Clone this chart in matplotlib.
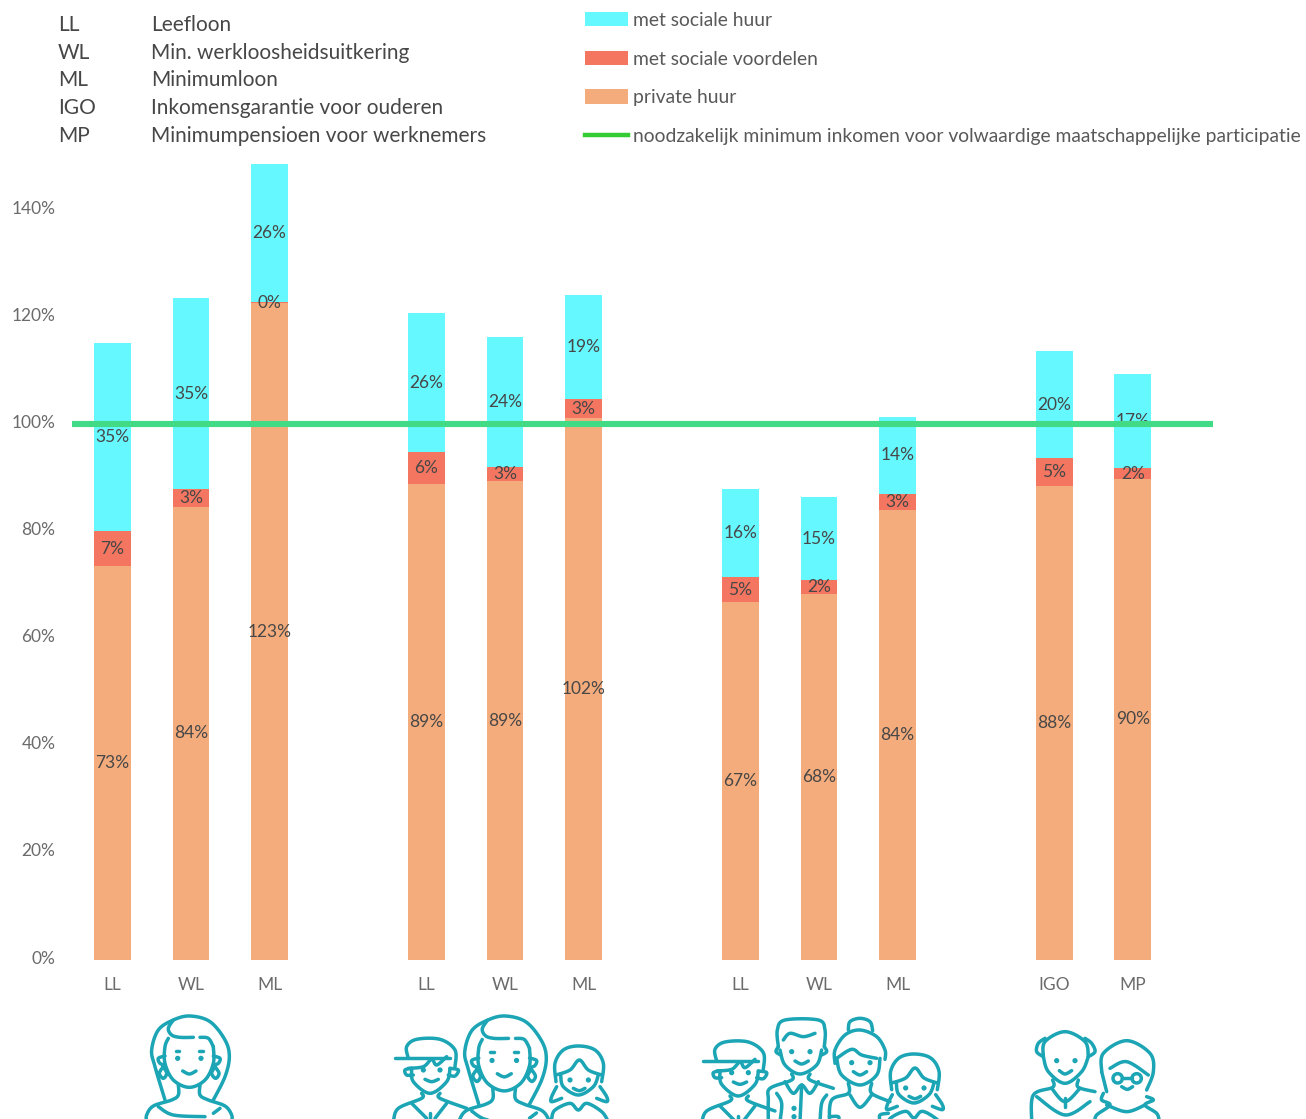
import numpy as np
from matplotlib import pyplot as plt
from matplotlib.patches import Circle
from matplotlib.transforms import ScaledTranslation

plt.rcParams['font.family'] = ['Lato', 'DejaVu Sans']

W, H = 1306, 1119

# data
positions = [0, 1, 2, 4, 5, 6, 8, 9, 10, 12, 13]
categories = ['LL', 'WL', 'ML', 'LL', 'WL', 'ML', 'LL', 'WL', 'ML', 'IGO', 'MP']
private_huur = [73.5, 84.6, 122.6, 88.9, 89.4, 101.2, 66.8, 68.3, 84.0, 88.5, 89.8]
sociale_voordelen = [6.6, 3.3, 0.2, 5.9, 2.6, 3.5, 4.7, 2.6, 3.0, 5.2, 2.0]
sociale_huur = [35.1, 35.7, 26.3, 26.0, 24.3, 19.4, 16.4, 15.5, 14.4, 20.0, 17.6]
private_labels = ['73%', '84%', '123%', '89%', '89%', '102%', '67%', '68%', '84%', '88%', '90%']
voordelen_labels = ['7%', '3%', '0%', '6%', '3%', '3%', '5%', '2%', '3%', '5%', '2%']
huur_labels = ['35%', '35%', '26%', '26%', '24%', '19%', '16%', '15%', '14%', '20%', '17%']
minimum = 100
afkortingen = ['LL', 'WL', 'ML', 'IGO', 'MP']
betekenis = ['Leefloon', 'Min. werkloosheidsuitkering', 'Minimumloon',
             'Inkomensgarantie voor ouderen', 'Minimumpensioen voor werknemers']
legend_labels = ['met sociale huur', 'met sociale voordelen', 'private huur',
                 'noodzakelijk minimum inkomen voor volwaardige maatschappelijke participatie']

fig = plt.figure(figsize=(W / 100, H / 100), dpi=100)
ax = fig.add_axes([72 / W, 1 - 960 / H, (1213 - 72) / W, (960 - 164) / H])

bottom2 = np.array(private_huur) + np.array(sociale_voordelen)
b1 = ax.bar(positions, private_huur, 0.47, color='#F4AC7C', label=legend_labels[2])
b2 = ax.bar(positions, sociale_voordelen, 0.47, bottom=private_huur, color='#F47560', label=legend_labels[1])
b3 = ax.bar(positions, sociale_huur, 0.47, bottom=bottom2, color='#66F8FF', label=legend_labels[0])
for bars, labels in [(b1, private_labels), (b2, voordelen_labels), (b3, huur_labels)]:
    ax.bar_label(bars, labels=labels, label_type='center', fontsize=12.5, color='#474747', zorder=3)
line = ax.axhline(minimum, color='#41DA85', lw=4.4, zorder=5, solid_capstyle='round')

ax.set_xlim(-0.516, 14.02)
ax.set_ylim(0, 148.6)
ax.set_yticks(range(0, 141, 20))
ax.set_yticklabels(['%d%%' % v for v in range(0, 141, 20)])
ax.set_xticks(positions)
ax.set_xticklabels(categories)
ax.tick_params(length=0, labelsize=12.5, labelcolor='#6b6b6b')
ax.tick_params(axis='y', pad=12)
ax.tick_params(axis='x', pad=12.5)
for s in ax.spines.values():
    s.set_visible(False)
for t in ax.get_yticklabels():
    t.set_transform(t.get_transform() + ScaledTranslation(0, 3 / 100, fig.dpi_scale_trans))

green = plt.Line2D([], [], color='#33CC33', lw=3.2)
ax.legend([b3, b2, b1, green], legend_labels, loc='upper left', frameon=False,
          bbox_to_anchor=(585 / W, 1 - 12 / H), bbox_transform=fig.transFigure,
          borderaxespad=0, borderpad=0, fontsize=13.9, labelcolor='#595959',
          handlelength=2.25, handleheight=0.75, handletextpad=0.25, labelspacing=1.12)

# overlay in picture pixels for the key and the icons
over = fig.add_axes([0, 0, 1, 1], facecolor='none')
over.set_xlim(0, W)
over.set_ylim(H, 0)
over.axis('off')

for y, a, b in zip([25, 53, 80, 108, 136], afkortingen, betekenis):
    over.text(58, y, a, fontsize=15, color='#474747', va='center')
    over.text(151, y, b, fontsize=15, color='#474747', va='center')

TEAL = '#1BA5B5'


def smooth(pts, n=12):
    # catmull-rom through the given points
    p = np.array(pts, dtype=float)
    if len(p) < 3:
        return p
    p = np.vstack([p[0], p, p[-1]])
    out = []
    for i in range(1, len(p) - 2):
        for t in np.linspace(0, 1, n, endpoint=False):
            out.append(0.5 * (2 * p[i] + (p[i + 1] - p[i - 1]) * t
                              + (2 * p[i - 1] - 5 * p[i] + 4 * p[i + 1] - p[i + 2]) * t ** 2
                              + (3 * p[i] - p[i - 1] - 3 * p[i + 1] + p[i + 2]) * t ** 3))
    out.append(p[-2])
    return np.array(out)


def draw(shape, ox, oy, scale=1.0, anchor=(0, 0)):
    # shape points are in 3x crop units
    for pts in shape:
        xy = smooth(pts)
        px = ox + (anchor[0] + (xy[:, 0] - anchor[0]) * scale) / 3
        py = oy + (anchor[1] + (xy[:, 1] - anchor[1]) * scale) / 3
        over.plot(px, py, color=TEAL, lw=2.5, solid_capstyle='round', solid_joinstyle='round')


def dots(points, ox, oy, scale=1.0, anchor=(0, 0)):
    for x, y in points:
        over.add_patch(Circle((ox + (anchor[0] + (x - anchor[0]) * scale) / 3,
                               oy + (anchor[1] + (y - anchor[1]) * scale) / 3), 1.9, color=TEAL))


woman = [
    [(105, 300), (75, 200), (65, 150), (85, 90), (130, 60), (180, 48), (240, 65), (285, 120), (298, 170), (285, 230), (250, 300)],
    [(130, 60), (115, 85), (125, 105), (150, 112), (190, 112)],
    [(210, 112), (235, 115), (250, 140)],
    [(115, 115), (105, 140), (105, 190), (130, 240), (178, 262), (225, 240), (250, 190), (250, 140)],
    [(105, 168), (85, 175), (90, 190), (105, 195)],
    [(250, 168), (270, 175), (265, 190), (250, 195)],
    [(100, 200), (88, 220), (100, 235), (110, 220), (100, 200)],
    [(255, 200), (245, 220), (257, 235), (267, 220), (255, 200)],
    [(137, 152), (148, 152)], [(207, 152), (218, 152)],
    [(158, 213), (178, 222), (198, 213)],
    [(145, 255), (145, 285), (125, 300), (70, 318), (50, 345), (50, 365)],
    [(210, 255), (210, 285), (235, 300), (285, 318), (305, 345), (305, 365)],
    [(85, 320), (130, 345), (225, 350)],
    [(250, 340), (270, 325)],
]
woman_eyes = [(143, 175), (213, 175)]

boy = [
    [(795, 175), (960, 175)],
    [(835, 175), (830, 140), (860, 118), (930, 118), (975, 150), (975, 200)],
    [(845, 205), (850, 245), (900, 280), (950, 245), (960, 205)],
    [(845, 205), (825, 210), (830, 225), (850, 225)],
    [(960, 205), (985, 210), (975, 228), (955, 225)],
    [(835, 205), (880, 200), (905, 178), (920, 195), (950, 170)],
    [(885, 238), (905, 245), (925, 238)],
    [(875, 280), (875, 295), (805, 325), (790, 365)],
    [(930, 280), (930, 295), (1010, 325)],
    [(845, 310), (890, 355)], [(950, 310), (915, 355)], [(900, 340), (900, 365)],
]
boy_eyes = [(880, 210), (930, 210)]

girl = [
    [(1278, 245), (1275, 190), (1300, 150), (1345, 138), (1395, 150), (1420, 190), (1415, 245)],
    [(1278, 225), (1320, 210), (1348, 180), (1375, 210), (1415, 225)],
    [(1292, 225), (1300, 260), (1345, 285), (1390, 260), (1405, 225)],
    [(1280, 260), (1265, 290), (1265, 305), (1295, 295)],
    [(1410, 260), (1430, 290), (1430, 305), (1400, 295)],
    [(1330, 265), (1348, 272), (1365, 265)],
    [(1265, 355), (1275, 330), (1320, 310), (1345, 330), (1370, 310), (1415, 335), (1435, 365)],
]
girl_eyes = [(1320, 240), (1375, 240)]

man = [
    [(265, 140), (262, 90), (285, 60), (385, 60), (405, 90), (403, 140)],
    [(280, 120), (300, 100), (340, 110), (375, 100)],
    [(270, 150), (285, 195), (330, 222), (380, 195), (395, 150)],
    [(265, 140), (258, 155), (272, 165)], [(403, 140), (410, 155), (395, 165)],
    [(315, 183), (335, 192), (355, 183)],
    [(305, 222), (305, 240), (240, 265), (235, 300), (235, 365)],
    [(360, 222), (360, 240), (430, 265)],
    [(285, 245), (310, 280), (335, 255), (360, 280), (385, 245)],
    [(335, 255), (330, 365)],
    [(260, 280), (275, 310), (270, 365)], [(410, 285), (395, 310), (390, 365)],
]
man_eyes = [(305, 155), (360, 155), (312, 325), (312, 350)]

mum = [
    [(475, 90), (480, 65), (510, 55), (540, 65), (548, 92)],
    [(435, 190), (435, 150), (465, 105), (510, 90), (560, 110), (585, 150), (585, 178)],
    [(440, 175), (485, 148), (515, 165), (560, 175)],
    [(440, 175), (455, 225), (510, 255), (560, 225), (570, 175)],
    [(490, 215), (510, 225), (530, 215)],
    [(475, 250), (475, 280), (425, 300), (418, 365)],
    [(545, 250), (545, 280), (600, 305)],
    [(480, 285), (510, 322), (545, 285)],
    [(418, 350), (445, 350), (445, 365)], [(595, 340), (570, 345), (570, 365)],
]
mum_eyes = [(485, 188), (540, 188)]

grandpa = [
    [(1060, 170), (1065, 125), (1125, 95), (1185, 125), (1195, 170)],
    [(1065, 115), (1045, 130), (1040, 155), (1060, 170)],
    [(1185, 115), (1205, 130), (1215, 155), (1195, 170)],
    [(1060, 170), (1075, 215), (1125, 250), (1175, 215), (1195, 170)],
    [(1108, 212), (1125, 222), (1145, 212)],
    [(1088, 240), (1088, 262), (1030, 285), (1025, 365)],
    [(1165, 240), (1165, 262), (1215, 275)],
    [(1085, 265), (1125, 305), (1170, 265)],
    [(1040, 290), (1125, 345), (1200, 305)],
    [(1125, 295), (1125, 320)],
]
grandpa_eyes = [(1100, 182), (1155, 182)]

grandma = [
    [(1235, 215), (1240, 160), (1310, 122), (1380, 160), (1390, 215), (1370, 270)],
    [(1235, 215), (1250, 275)],
    [(1260, 205), (1310, 185), (1375, 225)],
    [(1295, 260), (1312, 268), (1328, 260)],
    [(1240, 280), (1235, 300), (1260, 315), (1220, 345), (1215, 365)],
    [(1370, 290), (1390, 300), (1365, 315), (1400, 340), (1408, 365)],
    [(1250, 315), (1310, 335), (1365, 315)],
    [(1297, 235), (1326, 235)],
]

draw(woman, 130, 1000)
dots(woman_eyes, 130, 1000)

# second group: boy, mother, girl
draw(boy, 130, 1000)
dots(boy_eyes, 130, 1000)
draw(woman, 130 + 315, 1000, 1.05, (180, 48))
dots(woman_eyes, 130 + 315, 1000, 1.05, (180, 48))
draw(girl, 130, 1000)
dots(girl_eyes, 130, 1000)

# third group: boy, father, mother, girl
boy_dx = (690 + 40 / 3) - (130 + 795 / 3)
draw(boy, 130 + boy_dx, 1000 + 8 / 3)
dots(boy_eyes, 130 + boy_dx, 1000 + 8 / 3)
draw(man, 690, 1000)
dots(man_eyes, 690, 1000)
draw(mum, 690, 1000)
dots(mum_eyes, 690, 1000)
girl_dx = (690 + 672 / 3) - (130 + 1345 / 3)
draw(girl, 130 + girl_dx, 1000 + 24 / 3)
dots(girl_eyes, 130 + girl_dx, 1000 + 24 / 3)

# fourth group: grandparents
draw(grandpa, 690, 1000)
dots(grandpa_eyes, 690, 1000)
draw(grandma, 690, 1000)
for x in (1283, 1340):
    over.add_patch(Circle((690 + x / 3, 1000 + 235 / 3), 14 / 3, fill=False, ec=TEAL, lw=2.5))

fig.savefig('out.png', dpi=100)
